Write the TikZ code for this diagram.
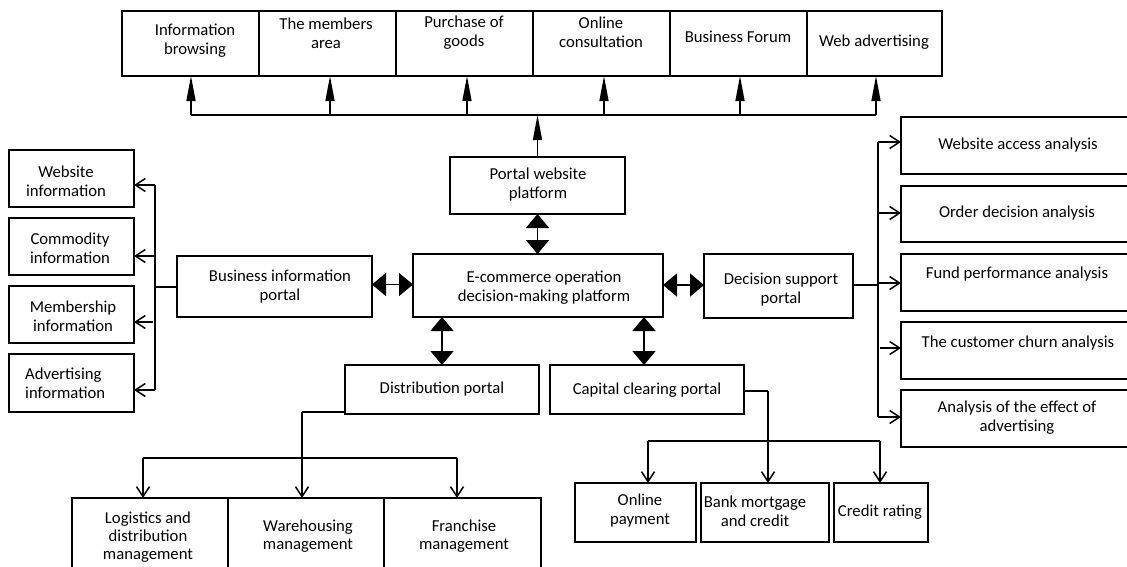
\documentclass[tikz,border=0pt]{standalone}
\usepackage{fontspec}
\setmainfont{Carlito}
\usetikzlibrary{arrows.meta}
\tikzset{
  box/.style={draw, line width=1.5pt, inner sep=0pt, outer sep=0pt},
  txt/.style={align=center, inner sep=0pt, font=\fontsize{16.7}{19}\selectfont},
  ln/.style={line width=1.5pt},
  uparr/.style={ln, -{Triangle[length=25pt,width=9pt]}},
  dbl/.style={ln, {Triangle[length=14pt,width=23pt]}-{Triangle[length=14pt,width=23pt]}},
  opn/.style={ln, -{Straight Barb[length=10pt,width=13pt]}},
}
\newcommand{\mybox}[5]{%
  \pgfmathsetmacro{\mybw}{#4-#2}\pgfmathsetmacro{\mybh}{#5-#3}%
  \node[box, minimum width=\mybw pt, minimum height=\mybh pt] (#1) at ({(#2+#4)/2},{(#3+#5)/2}) {};}
\begin{document}
\begin{tikzpicture}[x=1pt,y=-1pt]
\useasboundingbox (0,0) rectangle (1127,566);
\clip (0,0) rectangle (1127,566);
% top row
\mybox{t1}{122}{11}{259}{76}
\mybox{t2}{259}{11}{396}{76}
\mybox{t3}{396}{11}{533}{76}
\mybox{t4}{533}{11}{670}{76}
\mybox{t5}{670}{11}{807}{76}
\mybox{t6}{807}{11}{942}{76}
\node[txt] at (195,41) {Information\\browsing};
\node[txt] at (326,33) {The members\\area};
\node[txt] at (464,33) {Purchase of\\goods};
\node[txt] at (601,32) {Online\\consultation};
\node[txt] at (738,37) {Business Forum};
\node[txt] at (874,42) {Web advertising};
% central
\mybox{portal}{450}{157}{625}{214}
\mybox{ecom}{413}{254}{663}{317}
\mybox{bip}{177}{256}{372}{317}
\mybox{dsp}{704}{254}{853}{318}
\mybox{dist}{345}{365}{539}{414}
\mybox{cap}{550}{365}{744}{414}
\node[txt] at (538,185) {Portal website\\platform};
\node[txt] at (544,288) {E-commerce operation\\decision-making platform};
\node[txt] at (280,286.5) {Business information\\portal};
\node[txt] at (781,290) {Decision support\\portal};
\node[txt] at (442,389) {Distribution portal};
\node[txt] at (647,390) {Capital clearing portal};
% left
\mybox{l1}{9}{150}{134}{207}
\mybox{l2}{9}{218}{134}{275}
\mybox{l3}{9}{286}{134}{343}
\mybox{l4}{9}{354}{134}{412}
\node[txt] at (66,181) {Website\\information};
\node[txt] at (70,248) {Commodity\\information};
\node[txt] at (73,316.5) {Membership\\information};
\node[txt, align=left, anchor=west] at (25,383) {Advertising\\information};
% right
\mybox{r1}{901}{117}{1140}{174}
\mybox{r2}{901}{186}{1140}{242}
\mybox{r3}{901}{254}{1140}{311}
\mybox{r4}{901}{322}{1140}{379}
\mybox{r5}{901}{390}{1140}{447}
\node[txt] at (1018,145) {Website access analysis};
\node[txt] at (1017,213) {Order decision analysis};
\node[txt] at (1017,274) {Fund performance analysis};
\node[txt] at (1018,343) {The customer churn analysis};
\node[txt] at (1017,418) {Analysis of the effect of\\advertising};
% bottom left
\mybox{b1}{72}{498}{228}{600}
\mybox{b2}{228}{498}{384}{600}
\mybox{b3}{384}{498}{541}{600}
\node[txt, font=\fontsize{16.7}{18}\selectfont] at (148,537) {Logistics and\\distribution\\management};
\node[txt, font=\fontsize{16.7}{18}\selectfont] at (308,536) {Warehousing\\management};
\node[txt, font=\fontsize{16.7}{18}\selectfont] at (464,536) {Franchise\\management};
% bottom right
\mybox{c1}{575}{483}{696}{542}
\mybox{c2}{701}{483}{829}{542}
\mybox{c3}{834}{483}{928}{542}
\node[txt] at (640,511) {Online\\payment};
\node[txt] at (755,511) {Bank mortgage\\and credit};
\node[txt] at (880,512) {Credit rating};

% ---- connectors ----
% top bus
\coordinate (bus) at (537,115);
\draw[ln] ([xshift=0.5pt]t1.south |- bus) -- ([xshift=1.5pt]t6.south |- bus);
\draw[uparr] ([xshift=0.5pt]t1.south |- bus) -- ([xshift=0.5pt]t1.south);
\draw[uparr] ([xshift=2.5pt]t2.south |- bus) -- ([xshift=2.5pt]t2.south);
\draw[uparr] ([xshift=2.5pt]t3.south |- bus) -- ([xshift=2.5pt]t3.south);
\draw[uparr] ([xshift=2.5pt]t4.south |- bus) -- ([xshift=2.5pt]t4.south);
\draw[uparr] ([xshift=1.5pt]t5.south |- bus) -- ([xshift=1.5pt]t5.south);
\draw[uparr] ([xshift=1.5pt]t6.south |- bus) -- ([xshift=1.5pt]t6.south);
\draw[uparr] (portal.north) -- (portal.north |- bus);
% double arrows
\draw[dbl] (portal.south) -- (portal.south |- ecom.north);
\draw[dbl] ([yshift=2pt]bip.east) -- ([yshift=2pt]bip.east -| ecom.west);
\draw[dbl] ([yshift=1pt]dsp.west -| ecom.east) -- ([yshift=1pt]dsp.west);
\draw[dbl] (dist.north) -- (dist.north |- ecom.south);
\draw[dbl] ([xshift=-3pt]cap.north) -- ([xshift=-3pt]cap.north |- ecom.south);
% left tree
\coordinate (lt) at (155,185);
\coordinate (lb) at (155,390);
\draw[ln] (bip.west |- 0,287) -- (155,287);
\draw[ln] (lt) -- (lb);
\draw[opn] (lt) -- (l1.east |- lt);
\draw[opn] (155,256) -- (l2.east |- 0,256);
\draw[opn] (153,322) -- (l3.east |- 0,322);
\draw[opn] (lb) -- (l4.east |- lb);
% right tree
\coordinate (rt) at (878,142);
\coordinate (rb) at (878,417);
\draw[ln] (dsp.east |- 0,285) -- (878,285);
\draw[ln] (rt) -- (rb);
\draw[opn] (rt) -- (r1.west |- rt);
\draw[opn] (878,213) -- (r2.west |- 0,213);
\draw[opn] (878,283) -- (r3.west |- 0,283);
\draw[opn] (880,348) -- (r4.west |- 0,348);
\draw[opn] (rb) -- (r5.west |- rb);
% bottom left tree
\coordinate (dl) at (302,412);
\coordinate (dbL) at (143,458);
\coordinate (dbR) at (457,458);
\draw[ln] (dist.west |- dl) -- (dl);
\draw[opn] (dl) -- (dl |- b2.north);
\draw[ln] (dbL) -- (dbR);
\draw[opn] (dbL) -- (dbL |- b1.north);
\draw[opn] (dbR) -- (dbR |- b3.north);
% bottom right tree
\coordinate (cr) at (768,391);
\coordinate (cbL) at (648,441);
\coordinate (cbR) at (880,441);
\draw[ln] (cap.east |- cr) -- (cr);
\draw[opn] (cr) -- (cr |- c2.north);
\draw[ln] (cbL) -- (cbR);
\draw[opn] (cbL) -- (cbL |- c1.north);
\draw[opn] (cbR) -- (cbR |- c3.north);
\end{tikzpicture}
\end{document}
